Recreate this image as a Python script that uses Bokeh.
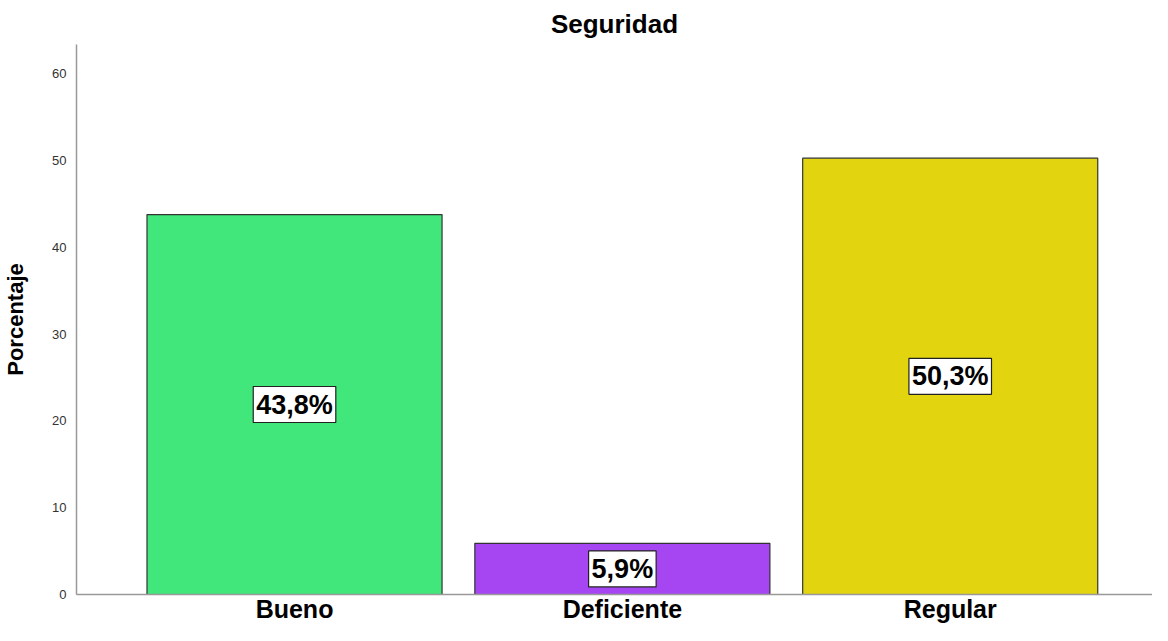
from bokeh.plotting import figure
from bokeh.models import ColumnDataSource, FixedTicker, Range1d, Title
from bokeh.core.properties import value
from bokeh.embed import file_html
from bokeh.resources import INLINE

categories = ["Bueno", "Deficiente", "Regular"]
values = [43.8, 5.9, 50.3]
labels = ["43,8%", "5,9%", "50,3%"]
colors = ["#41E77B", "#A646F2", "#E2D510"]
y_ticks = [0, 10, 20, 30, 40, 50, 60]

xs = list(range(len(categories)))
src = ColumnDataSource(dict(x=xs, top=values, mid=[v / 2 for v in values],
                            lab=labels, color=colors))

FONT = "Liberation Sans"
p = figure(width=1152, height=625, output_backend="svg", toolbar_location=None,
           x_range=Range1d(-0.665, 2.617), y_range=Range1d(0, 63.4))
p.min_border_left = 69
p.min_border_right = 0
p.min_border_top = 0
p.min_border_bottom = 0
p.title = None
p.add_layout(Title(text="Seguridad", align="center", text_font=FONT,
                   text_font_size="26px", text_font_style="bold", text_color="#000000",
                   standoff=12), "above")

p.vbar(x="x", top="top", width=0.9, source=src, fill_color="color",
       line_color="#333333", line_width=1.2)

p.text(x="x", y="mid", text="lab", source=src, text_align="center",
       text_baseline="middle", text_font=value(FONT), text_font_size="27px",
       text_font_style="bold", text_color="#000000",
       background_fill_color="white", border_line_color="#222222",
       border_line_width=1.2, padding=3)

p.xgrid.visible = False
p.ygrid.visible = False
p.outline_line_color = None

for ax in (p.xaxis, p.yaxis):
    ax.major_tick_line_color = None
    ax.minor_tick_line_color = None
    ax.major_tick_out = 0
    ax.major_tick_in = 0
    ax.minor_tick_out = 0
    ax.minor_tick_in = 0
    ax.axis_line_color = "#999999"
    ax.axis_line_width = 1.5

p.xaxis.ticker = FixedTicker(ticks=xs)
p.xaxis.major_label_overrides = {i: c for i, c in enumerate(categories)}
p.xaxis.major_label_text_font = FONT
p.xaxis.major_label_text_font_size = "25px"
p.xaxis.major_label_text_font_style = "bold"
p.xaxis.major_label_text_color = "#000000"
p.xaxis.major_label_standoff = 0

p.yaxis.ticker = FixedTicker(ticks=y_ticks)
p.yaxis.axis_label = "Porcentaje"
p.yaxis.axis_label_text_font = FONT
p.yaxis.axis_label_text_font_size = "22px"
p.yaxis.axis_label_text_font_style = "bold"
p.yaxis.axis_label_text_color = "#000000"
p.yaxis.axis_label_standoff = 21
p.yaxis.major_label_text_font = FONT
p.yaxis.major_label_text_font_size = "13px"
p.yaxis.major_label_text_color = "#333333"
p.yaxis.major_label_standoff = 10

open("out.html", "w").write(file_html(p, INLINE))
